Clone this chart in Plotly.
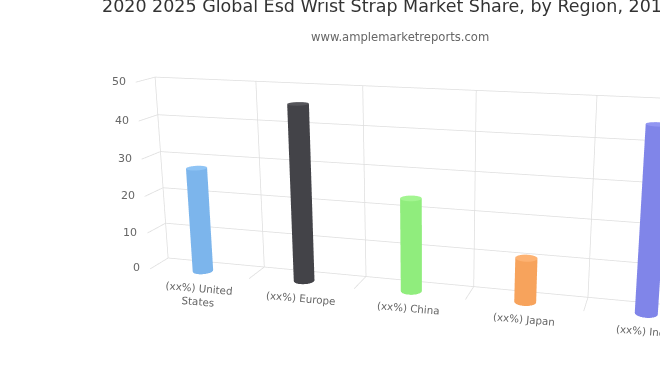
import math
import plotly.graph_objects as go

categories = ["(xx%) United<br>States", "(xx%) Europe", "(xx%) China", "(xx%) Japan", "(xx%) India"]
values = [28, 46, 24, 11.2, 45.2]
colors = ["#7cb5ec", "#434348", "#90ed7d", "#f7a35c", "#8085e9"]
top_colors = ["#8fc4f5", "#55555a", "#a3f591", "#fdb272", "#9296f2"]
y_ticks = [0, 10, 20, 30, 40, 50]
title_text = "2020 2025 Global Esd Wrist Strap Market Share, by Region, 2015"
subtitle_text = "www.amplemarketreports.com"

W, H, SHIFT = 856, 804, 212
GRID = "#dedede"
TEXT = "#666666"
FONT = "DejaVu Sans"
X_MAX = len(categories)
DEPTH_MIN, TICK_END, BAR_Y = -40, -34, -26
RADIUS = 9.6
X_UNIT = 104.3
SIDES = 48
FLAT = dict(ambient=1, diffuse=0, specular=0, fresnel=0.2, roughness=0.5)
ANGLES = [2 * math.pi * k / SIDES for k in range(SIDES + 1)]


def flat_surface(xs, ys, zs, color):
    zero = [[0] * len(row) for row in zs]
    return go.Surface(x=xs, y=ys, z=zs, surfacecolor=zero, cmin=0, cmax=1,
                      colorscale=[[0, color], [1, color]], showscale=False,
                      lighting=FLAT, hoverinfo="skip")


def cylinder(cx, height, side_color, cap_color):
    cols_x = [cx + RADIUS / X_UNIT * math.cos(a) for a in ANGLES]
    cols_y = [BAR_Y + RADIUS * math.sin(a) for a in ANGLES]
    side = flat_surface([cols_x, cols_x], [cols_y, cols_y],
                        [[0] * len(ANGLES), [height] * len(ANGLES)], side_color)
    cap = flat_surface([[cx] * len(ANGLES), cols_x], [[BAR_Y] * len(ANGLES), cols_y],
                       [[height] * len(ANGLES), [height] * len(ANGLES)], cap_color)
    return [side, cap]


lx, ly, lz = [], [], []


def seg(x0, y0, z0, x1, y1, z1):
    lx.extend([x0, x1, None])
    ly.extend([y0, y1, None])
    lz.extend([z0, z1, None])


for t in y_ticks:
    seg(0, 0, t, X_MAX, 0, t)
    seg(0, 0, t, 0, TICK_END, t)
for c in range(X_MAX + 1):
    seg(c, 0, 0, c, 0, y_ticks[-1])
    seg(c, 0, 0, c, TICK_END, 0)

fig = go.Figure()
fig.add_trace(go.Scatter3d(x=lx, y=ly, z=lz, mode="lines", line=dict(color=GRID, width=1.5),
                           hoverinfo="skip", showlegend=False, connectgaps=False))
for c, v in enumerate(values):
    fig.add_traces(cylinder(c + 0.5, v, colors[c], top_colors[c]))

scene_annotations = []
for t in y_ticks:
    scene_annotations.append(dict(
        x=0, y=TICK_END, z=t, text=str(t), showarrow=False, xanchor="right", yanchor="middle",
        xshift=-8, yshift=1, font=dict(family=FONT, size=11, color=TEXT)))
for c, name in enumerate(categories):
    scene_annotations.append(dict(
        x=c + 0.5, y=TICK_END, z=0, text=name, showarrow=False, xanchor="center", yanchor="top",
        yshift=-3, textangle=5, font=dict(family=FONT, size=10.3, color=TEXT)))

axis = dict(visible=False, showgrid=False, zeroline=False, showline=False, showticklabels=False,
            showbackground=False, showspikes=False, title="")
K = 1 / 200
fig.update_layout(
    width=W, height=H, margin=dict(l=0, r=0, t=0, b=0), showlegend=False,
    paper_bgcolor="white", plot_bgcolor="white",
    scene=dict(
        domain=dict(x=[0, 1], y=[0, 1]),
        xaxis=dict(axis, range=[0, X_MAX]),
        yaxis=dict(axis, range=[DEPTH_MIN, 0]),
        zaxis=dict(axis, range=[0, y_ticks[-1]]),
        aspectmode="manual",
        aspectratio=dict(x=X_MAX * X_UNIT * K, y=-DEPTH_MIN * K, z=181.6 * K),
        camera=dict(
            eye=dict(x=230.65 * K, y=-802.1 * K, z=222.1 * K),
            center=dict(x=-14.2 * K, y=104.5 * K, z=-25 * K),
            up=dict(x=0, y=0, z=1),
            projection=dict(type="perspective"),
        ),
        annotations=scene_annotations,
        dragmode=False,
    ),
    annotations=[
        dict(xref="paper", yref="paper", x=100 / W, y=1 - (6 + SHIFT) / H, text=title_text,
             showarrow=False, xanchor="left", yanchor="middle",
             font=dict(family=FONT, size=17.5, color="#333333")),
        dict(xref="paper", yref="paper", x=400 / W, y=1 - (37 + SHIFT) / H, text=subtitle_text,
             showarrow=False, xanchor="center", yanchor="middle",
             font=dict(family=FONT, size=11.6, color=TEXT)),
    ],
)

post = (
    "document.documentElement.style.overflow='hidden';"
    "document.body.style.overflow='hidden';"
    "document.body.style.margin='0';"
    f"document.getElementById('{{plot_id}}').style.marginTop='-{SHIFT}px';"
)
fig.write_html("out.html", post_script=post, config=dict(displayModeBar=False))
